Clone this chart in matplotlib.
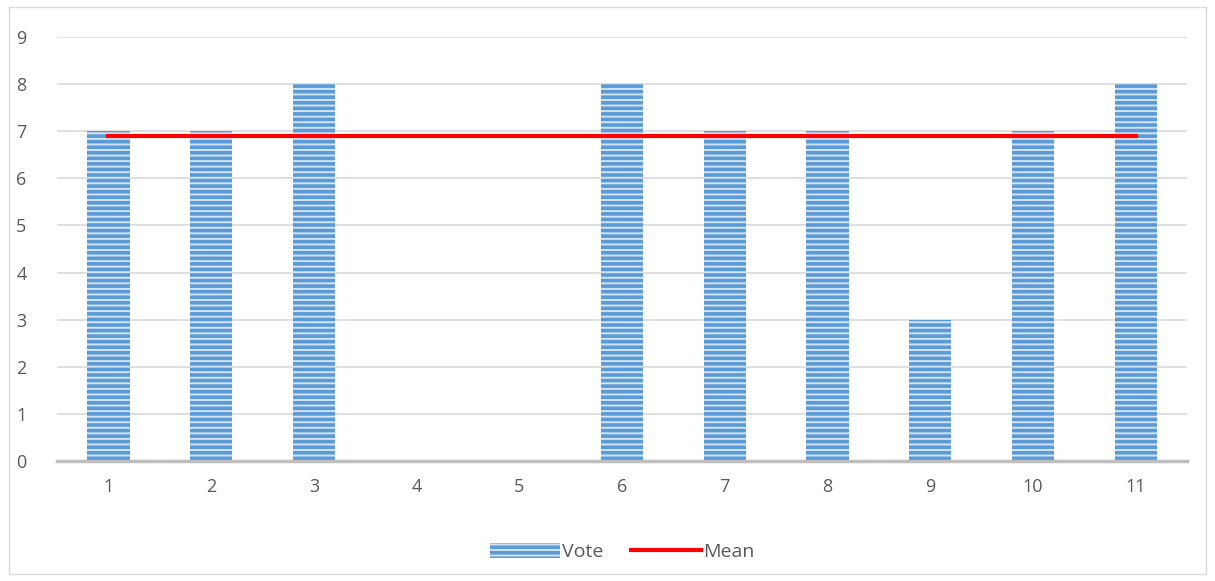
import numpy as np
import matplotlib
matplotlib.use("Agg")
import matplotlib.pyplot as plt
from matplotlib.patches import Rectangle

# Votes per item
items = [1, 2, 3, 4, 5, 6, 7, 8, 9, 10, 11]
votes = [7, 7, 8, 0, 0, 8, 7, 7, 3, 7, 8]

# Mean over items that received votes
voted = [v for v in votes if v > 0]
mean_vote = sum(voted) / len(voted)

plt.rcParams["font.family"] = ["Open Sans", "DejaVu Sans"]
plt.rcParams["hatch.linewidth"] = 2.6

fig = plt.figure(figsize=(12.15, 5.81), dpi=100)
ax = fig.add_axes([0.047, 0.2065, 0.930, 0.7298])

# Outer chart frame
fig.patches.append(Rectangle((0.007, 0.012), 0.986, 0.976, transform=fig.transFigure,
                             fill=False, edgecolor="#d9d9d9", linewidth=1.0))

x = np.arange(len(items))
bars = ax.bar(x, votes, width=0.41, color="#d3e3f5", edgecolor="#5b9bd5",
              linewidth=0, hatch="---", label="Vote", zorder=2)
line, = ax.plot([x[0], x[-1]], [mean_vote, mean_vote], color="#ff0000",
                linewidth=3, label="Mean", zorder=3)

ax.set_xlim(-0.5, len(items) - 0.5)
ax.set_ylim(0, 9)
ax.set_yticks(range(0, 10))
ax.set_xticks(x)
ax.set_xticklabels([str(i) for i in items])

ax.grid(axis="y", color="#d9d9d9", linewidth=1.2, zorder=0)
ax.set_axisbelow(True)
for side in ["top", "right", "left"]:
    ax.spines[side].set_visible(False)
ax.spines["bottom"].set_color("#bfbfbf")
ax.spines["bottom"].set_linewidth(2.5)
ax.spines["bottom"].set_zorder(4)

ax.tick_params(axis="both", length=0, labelsize=13, labelcolor="#595959")
ax.tick_params(axis="y", pad=22)
ax.tick_params(axis="x", pad=12)

ax.legend([bars, line], ["Vote", "Mean"], loc="center",
          bbox_to_anchor=(0.5, -0.215), ncol=2, frameon=False,
          fontsize=14, labelcolor="#595959", handlelength=3.6,
          handleheight=0.8, handletextpad=0.1, columnspacing=1.4)

fig.savefig("out.png", dpi=100)
